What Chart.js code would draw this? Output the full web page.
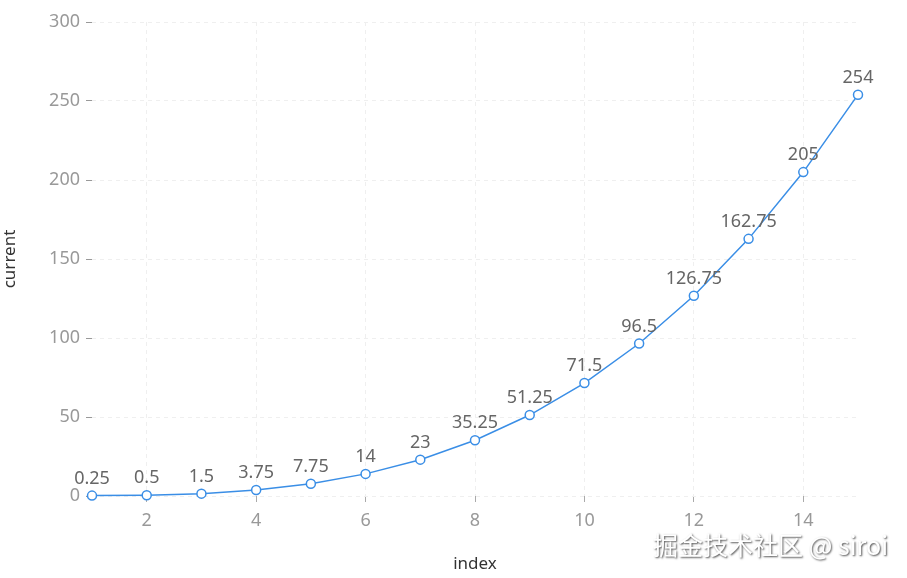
<!DOCTYPE html>
<html>
<head>
<meta charset="utf-8">
<script src="https://cdn.jsdelivr.net/npm/chart.js@4.4.0/dist/chart.umd.min.js"></script>
<style>
  html, body { margin:0; padding:0; background:#fff; }
  #wrap { width:907px; height:578px; position:relative; }
</style>
</head>
<body>
<div id="wrap"><canvas id="grafico"></canvas></div>
<script>

const indices = [1,2,3,4,5,6,7,8,9,10,11,12,13,14,15];

const valores = [0.25,0.5,1.5,3.75,7.75,14,23,35.25,51.25,71.5,96.5,126.75,162.75,205,254];

const ticksX = [2,4,6,8,10,12,14];

const fuente = "'Noto Sans', 'Open Sans', sans-serif";

// etiquetas de valor encima de cada punto
const etiquetas = {
    id:"etiquetas",
    afterDatasetsDraw(chart){
        const ctx = chart.ctx;
        const meta = chart.getDatasetMeta(0);
        ctx.save();
        ctx.font = "18px " + fuente;
        ctx.fillStyle = "#666";
        ctx.textAlign = "center";
        ctx.textBaseline = "bottom";
        meta.data.forEach((p, i) => {
            ctx.fillText(String(valores[i]), p.x, p.y - 8);
        });
        ctx.restore();
    }
};

const marcaAgua = {
    id:"marcaAgua",
    afterDraw(chart){
        const ctx = chart.ctx;
        ctx.save();
        ctx.font = "25px 'Noto Sans CJK SC', sans-serif";
        ctx.textAlign = "right";
        ctx.textBaseline = "middle";
        ctx.shadowColor = "rgba(0,0,0,0.7)";
        ctx.shadowBlur = 2;
        ctx.shadowOffsetX = 1;
        ctx.shadowOffsetY = 1;
        ctx.fillStyle = "#fff";
        ctx.fillText("掘金技术社区 @ siroi", 888, 545);
        ctx.restore();
    }
};

new Chart(
    document.getElementById("grafico"),
    {
        type:"line",
        data:{
            datasets:[{
                label:"current",
                data: indices.map((x, i) => ({ x:x, y:valores[i] })),
                borderColor:"#3a8ee6",
                borderWidth:1.5,
                backgroundColor:"#fff",
                pointBorderColor:"#3a8ee6",
                pointBackgroundColor:"#fff",
                pointBorderWidth:1.5,
                pointRadius:4.5,
                tension:0,
                clip:false
            }]
        },
        options:{
            responsive:true,
            maintainAspectRatio:false,
            animation:false,
            layout:{ padding:{ top:22, right:49, left:0, bottom:0 } },
            plugins:{
                legend:{ display:false },
                tooltip:{ enabled:false }
            },
            scales:{
                x:{
                    type:"linear",
                    min:1,
                    max:15,
                    afterBuildTicks(scale){
                        scale.ticks = ticksX.map(v => ({ value:v }));
                    },
                    afterFit(scale){ scale.height = 82; },
                    border:{ display:false, dash:[4,4] },
                    grid:{
                        color:"#efefef",
                        drawTicks:true,
                        tickLength:6,
                        tickColor:"#aaa",
                        tickBorderDash:[]
                    },
                    ticks:{
                        color:"#999",
                        font:{ size:18, family:fuente },
                        padding:8
                    },
                    title:{
                        display:true,
                        text:"index",
                        color:"#333",
                        font:{ size:17, family:fuente },
                        padding:{ top:12 }
                    }
                },
                y:{
                    min:0,
                    max:300,
                    afterFit(scale){ scale.width = 92; },
                    border:{ display:false, dash:[4,4] },
                    grid:{
                        color:"#efefef",
                        drawTicks:true,
                        tickLength:6,
                        tickColor:"#999",
                        tickBorderDash:[]
                    },
                    ticks:{
                        stepSize:50,
                        color:"#999",
                        font:{ size:18, family:fuente },
                        padding:6
                    },
                    title:{
                        display:true,
                        text:"current",
                        color:"#333",
                        font:{ size:17, family:fuente },
                        padding:{ top:0, bottom:14 }
                    }
                }
            }
        },
        plugins:[etiquetas, marcaAgua]
    }
);
</script>
</body>
</html>
